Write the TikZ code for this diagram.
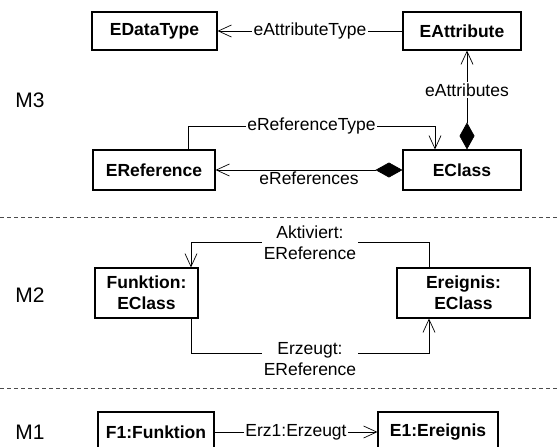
\documentclass[tikz,border=0pt]{standalone}
\usepackage{fontspec}
\setmainfont{Liberation Sans}
\usetikzlibrary{arrows.meta, calc}
\newcommand{\umlsize}{\fontsize{17.5}{21}\selectfont}
\tikzset{
  cls/.style={draw, line width=1.1pt, inner sep=0pt, minimum height=38pt,
              align=center, font=\umlsize\bfseries},
  assoc/.style={line width=0.7pt, -{Straight Barb[length=13pt,width=12pt]}},
  comp/.style={line width=0.7pt,
               {Diamond[length=27pt,width=15pt]}-{Straight Barb[length=13pt,width=12pt]}},
  lbl/.style={fill=white, inner sep=1.5pt, align=center, font=\umlsize},
  level/.style={font=\fontsize{21}{25}\selectfont},
  sep/.style={dash pattern=on 4pt off 3pt, line width=0.6pt, black!70}
}

\begin{document}
\begin{tikzpicture}[x=1pt, y=-1pt]
  \useasboundingbox (0,0) rectangle (557,447);

  % M3
  \node[level] (m3) at (30,100) {M3};
  \node[cls, minimum width=125pt] (EDataType) at (154.5,31) {EDataType};
  \node[cls, minimum width=118pt] (EAttribute) at (462,31) {EAttribute};
  \node[cls, minimum width=122pt, minimum height=40pt] (EReference) at (154,170) {EReference};
  \node[cls, minimum width=118pt, minimum height=40pt] (EClass) at (462,170) {EClass};

  \draw[assoc] (EAttribute.west) -- node[lbl]{eAttributeType} (EDataType.east);
  \draw[comp] ([xshift=5pt]EClass.north) -- node[lbl, pos=0.6]{eAttributes} ([xshift=5pt]EAttribute.south);
  \draw[assoc] ([xshift=34pt]EReference.north) -- ++(0,-23)
    -| node[lbl, pos=0.25]{eReferenceType} ([xshift=-27pt]EClass.north);
  \draw[comp] (EClass.west) -- node[below, inner sep=1pt, font=\umlsize]{eReferences} (EReference.east);

  \draw[sep] (0,217) -- (557,217);

  % M2
  \node[level] (m2) at (30,295) {M2};
  \node[cls, minimum width=103pt, minimum height=50pt] (Funktion) at (146.5,293) {Funktion:\\EClass};
  \node[cls, minimum width=133pt, minimum height=50pt] (Ereignis) at (463.5,293) {Ereignis:\\EClass};

  \draw[assoc] ([xshift=-34.5pt]Ereignis.north) -- ++(0,-25)
    -| node[lbl, pos=0.25]{Aktiviert:\\EReference} ([xshift=44.5pt]Funktion.north);
  \draw[assoc] ([xshift=44.5pt]Funktion.south) -- ++(0,35)
    -| node[lbl, pos=0.25, yshift=-6pt]{Erzeugt:\\EReference} ([xshift=-34.5pt]Ereignis.south);

  \draw[sep] (0,388) -- (557,388);

  % M1
  \node[level] (m1) at (30,432) {M1};
  \node[cls, minimum width=116pt, minimum height=40pt] (F1) at (156,432) {F1:Funktion};
  \node[cls, minimum width=120pt, minimum height=40pt] (E1) at (438,432) {E1:Ereignis};

  \draw[assoc] (F1.east) -- node[lbl]{Erz1:Erzeugt} (E1.west);
\end{tikzpicture}
\end{document}
